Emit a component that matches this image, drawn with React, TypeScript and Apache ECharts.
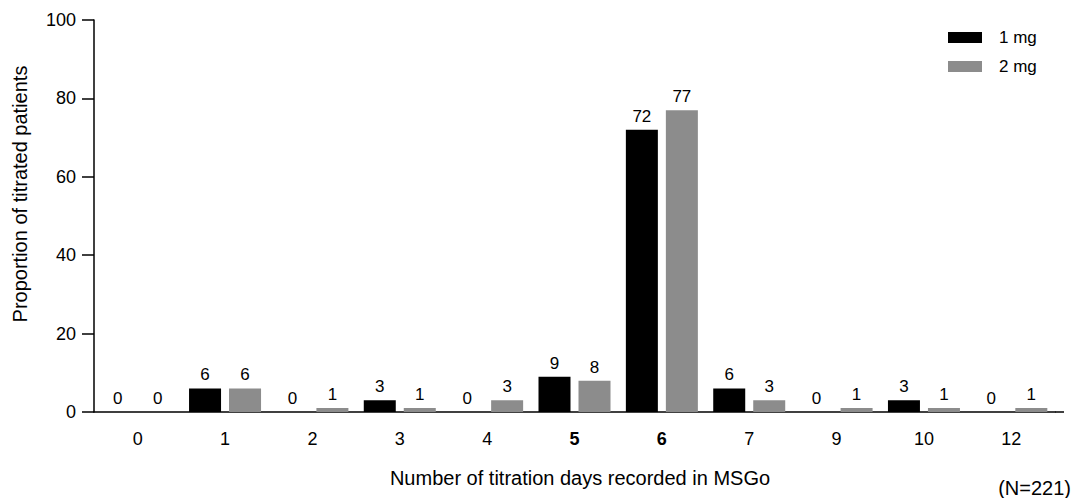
import React, { useEffect, useRef } from "react";
import * as echarts from "echarts";

// Titration days recorded in MSGo, by dose
const dayCategories = ["0", "1", "2", "3", "4", "5", "6", "7", "9", "10", "12"];
const boldDays = ["5", "6"];
const dose1mg = [0, 6, 0, 3, 0, 9, 72, 6, 0, 3, 0];
const dose2mg = [0, 6, 1, 1, 3, 8, 77, 3, 1, 1, 1];
const seriesNames = ["1 mg", "2 mg"];
const yTicks = { min: 0, max: 100, interval: 20 };

const FONT = "'Liberation Sans', Arial, Helvetica, sans-serif";

export default function App() {
  const ref = useRef<HTMLDivElement>(null);

  useEffect(() => {
    if (!ref.current) return;
    const chart = echarts.init(ref.current, null, { renderer: "svg" });

    const barLabel = {
      show: true,
      position: "top",
      distance: 5,
      color: "#000",
      fontSize: 17,
      fontFamily: FONT,
    };

    chart.setOption({
      animation: false,
      backgroundColor: "#fff",
      textStyle: { fontFamily: FONT },
      grid: { left: 94, top: 20, width: 961, height: 392 },
      legend: {
        left: 943,
        top: 24,
        orient: "vertical",
        itemWidth: 34,
        itemHeight: 11,
        itemGap: 12,
        icon: "rect",
        textStyle: { fontSize: 17, color: "#000", fontFamily: FONT, padding: [0, 0, 0, 12] },
        data: seriesNames,
      },
      xAxis: {
        type: "category",
        data: dayCategories,
        axisLine: { lineStyle: { color: "#000", width: 1.5 } },
        axisTick: { alignWithLabel: true, length: 12, lineStyle: { color: "#000", width: 1.5 } },
        axisLabel: {
          margin: 18,
          fontSize: 18,
          color: "#000",
          fontFamily: FONT,
          formatter: (v: string) => (boldDays.includes(v) ? `{b|${v}}` : v),
          rich: { b: { fontWeight: "bold", fontSize: 18, color: "#000", fontFamily: FONT } },
        },
      },
      yAxis: {
        type: "value",
        min: yTicks.min,
        max: yTicks.max,
        interval: yTicks.interval,
        splitLine: { show: false },
        axisLine: { show: true, lineStyle: { color: "#000", width: 1.5 } },
        axisTick: { show: true, length: 12, lineStyle: { color: "#000", width: 1.5 } },
        axisLabel: { margin: 18, fontSize: 18, color: "#000", fontFamily: FONT },
      },
      series: [
        {
          name: seriesNames[0],
          type: "bar",
          data: dose1mg,
          barWidth: 32,
          barGap: "25%",
          itemStyle: { color: "#000" },
          label: barLabel,
        },
        {
          name: seriesNames[1],
          type: "bar",
          data: dose2mg,
          barWidth: 32,
          itemStyle: { color: "#8c8c8c" },
          label: barLabel,
        },
      ],
      graphic: [
        // small continuation of the baseline past the last category
        {
          type: "line",
          shape: { x1: 1055, y1: 412, x2: 1064, y2: 412 },
          style: { stroke: "#000", lineWidth: 1.5 },
        },
        {
          type: "text",
          x: 20,
          y: 194,
          rotation: Math.PI / 2,
          style: {
            text: "Proportion of titrated patients",
            fontSize: 20,
            fontFamily: FONT,
            fill: "#000",
            align: "center",
            verticalAlign: "middle",
          },
        },
        {
          type: "text",
          x: 580,
          y: 478,
          style: {
            text: "Number of titration days recorded in MSGo",
            fontSize: 20,
            fontFamily: FONT,
            fill: "#000",
            align: "center",
            verticalAlign: "middle",
          },
        },
        {
          type: "text",
          x: 1071,
          y: 488,
          style: {
            text: "(N=221)",
            fontSize: 20,
            fontFamily: FONT,
            fill: "#000",
            align: "right",
            verticalAlign: "middle",
          },
        },
      ],
    });

    return () => chart.dispose();
  }, []);

  return (
    <div
      ref={ref}
      style={{ position: "fixed", left: 0, top: 0, width: 1092, height: 498 }}
    />
  );
}
